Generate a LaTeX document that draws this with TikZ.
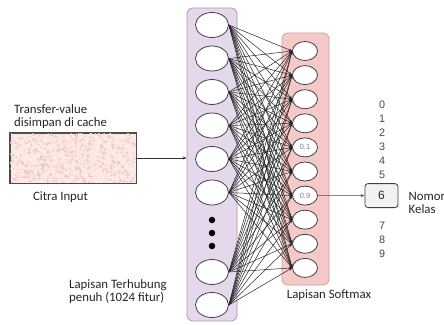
\documentclass[tikz,border=0pt]{standalone}
\usepackage{fontspec}
\newfontfamily\labfont{Carlito}
\newfontfamily\arifont{Liberation Sans}
\usetikzlibrary{shapes.geometric,arrows.meta}
\definecolor{lilac}{HTML}{E6D8EC}
\definecolor{lilacedge}{HTML}{A898B4}
\definecolor{rosefill}{HTML}{F6C9C9}
\definecolor{roseedge}{HTML}{D49A9A}
\definecolor{imgbase}{HTML}{FBEAE5}
\definecolor{speck}{HTML}{D9604F}
\definecolor{txt}{HTML}{262626}
\tikzset{
  lbl/.style={inner sep=0pt, text=txt, font=\labfont\fontsize{12.8}{13}\selectfont},
  digit/.style={inner sep=0pt, text=txt!85, font=\arifont\fontsize{10.8}{11}\selectfont},
  lnode/.style={ellipse, draw=black!75, line width=0.8pt, fill=white, minimum width=33pt, minimum height=25pt, inner sep=0pt},
  rnode/.style={ellipse, draw=black!75, line width=0.8pt, fill=white, minimum width=25pt, minimum height=19pt, inner sep=0pt, text=black!50, font=\arifont\fontsize{7.5}{8}\selectfont},
  conn/.style={draw=black!85, line width=0.5pt, -{Stealth[length=3.2pt,width=2.6pt]}},
  ldot/.style={circle, fill=black, minimum size=6.5pt, inner sep=0pt},
}
\begin{document}
\begin{tikzpicture}[x=1pt,y=-1pt]
\useasboundingbox (0,0) rectangle (444,324);
\fill[white] (0,0) rectangle (444,324);
% layer boxes
\node[draw=lilacedge, fill=lilac, rounded corners=6pt, line width=0.8pt, minimum width=50pt, minimum height=313pt, inner sep=0pt] (lbox) at (212,164.5) {};
\node[draw=roseedge, fill=rosefill, rounded corners=6pt, line width=0.8pt, minimum width=47pt, minimum height=252pt, inner sep=0pt] (rbox) at (305.5,159) {};
% left nodes
\foreach \i/\y in {1/25,2/58.5,3/92,4/125.5,5/159,6/192.5,7/272,8/305}
  \node[lnode] (l\i) at (212,\y) {};
\node[ldot] (d1) at (212,220) {};
\node[ldot] (d2) at (212,233) {};
\node[ldot] (d3) at (212,246) {};
% right nodes
\foreach \j in {1,...,10}{
  \pgfmathsetmacro\yy{51+24.1*(\j-1)}
  \node[rnode] (r\j) at (305,\yy) {\ifnum\j=5 0.1\fi\ifnum\j=7 0.9\fi};
}
% connections
\foreach \i in {1,...,8}
  \foreach \j in {1,...,10}
    \draw[conn] (l\i.east) -- (r\j.west);
% input image
\node[draw=black!70, line width=0.8pt, fill=imgbase, minimum width=126pt, minimum height=50pt, inner sep=0pt] (img) at (73,158) {};
\begin{scope}
\clip (img.south west) rectangle (img.north east);
\pgfmathsetseed{7}
\foreach \k in {1,...,500}{
  \pgfmathsetmacro\px{10+126*rnd}
  \pgfmathsetmacro\py{133+50*rnd}
  \pgfmathsetmacro\pr{0.6+1.2*rnd}
  \pgfmathsetmacro\pc{6+22*rnd}
  \fill[speck!\pc!imgbase] (\px,\py) circle (\pr);
}
\foreach \k in {1,...,120}{
  \pgfmathsetmacro\px{10+126*rnd}
  \pgfmathsetmacro\py{133+50*rnd}
  \pgfmathsetmacro\pc{30+45*rnd}
  \fill[speck!\pc!imgbase] (\px,\py) circle (0.55);
}
\end{scope}
\draw[draw=black!70, line width=0.8pt] (img.south west) rectangle (img.north east);
\draw[black!80, line width=0.6pt, -{Stealth[length=4pt,width=3pt]}] (img.east) -- (img.east -| lbox.west);
% output
\node[draw=black!75, fill=black!5, rounded corners=3pt, line width=0.8pt, minimum width=33pt, minimum height=24pt, inner sep=0pt, text=txt, font=\arifont\fontsize{12}{12}\selectfont] (six) at (381.5,195.6) {6};
\draw[black!70, line width=0.6pt, -{Stealth[length=4pt,width=3pt]}] (r7.east) -- (six.west);
\foreach \d/\y in {0/105,1/119,2/133,3/147,4/160.5,5/174.5,7/226,8/240,9/254}
  \node[digit] (n\d) at (382,\y) {\d};
% labels
\node[lbl, anchor=west, align=left] (tv) at (14,117) {Transfer-value\\disimpan di cache};
\node[lbl] (ci) at (60.5,197) {Citra Input};
\node[lbl, anchor=west, align=left] (lt) at (69,291.5) {Lapisan Terhubung\\penuh (1024 fitur)};
\node[lbl] (ls) at (329,295) {Lapisan Softmax};
\node[lbl, anchor=west, align=left] (nk) at (408.5,202.5) {Nomor\\Kelas};
\end{tikzpicture}
\end{document}
